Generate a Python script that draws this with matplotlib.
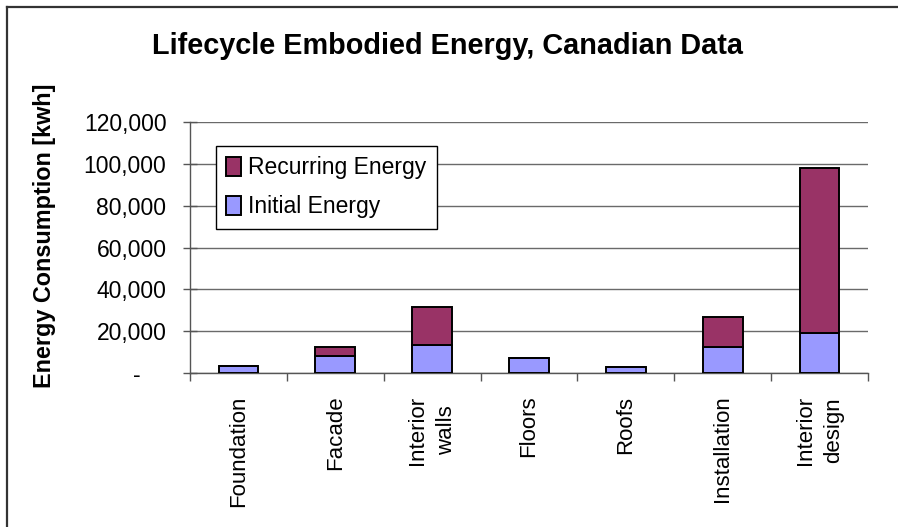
import matplotlib
matplotlib.use("Agg")
import matplotlib.pyplot as plt
from matplotlib.lines import Line2D
from matplotlib.ticker import FuncFormatter, FixedLocator
import numpy as np

categories = ["Foundation", "Facade", "Interior\nwalls", "Floors", "Roofs", "Installation", "Interior\ndesign"]
initial_energy = [3600, 8200, 13500, 7300, 2900, 12700, 19100]
recurring_energy = [0, 4500, 18000, 0, 0, 14300, 78700]
yticks = [0, 20000, 40000, 60000, 80000, 100000, 120000]

plt.rcParams['font.family'] = ['Liberation Sans', 'DejaVu Sans']

W, H = 898, 527
fig = plt.figure(figsize=(W / 100, H / 100), dpi=100)
fig.patch.set_facecolor('white')

ax_left, ax_right = 190, 868
ax_top, ax_bottom = 121.7, 373.3
ax = fig.add_axes([ax_left / W, 1 - ax_bottom / H, (ax_right - ax_left) / W, (ax_bottom - ax_top) / H])

x = np.arange(len(categories))
bw = 0.41
ax.bar(x, initial_energy, bw, color='#9999FF', edgecolor='black', linewidth=1.4,
       label='Initial Energy', zorder=3)
ax.bar(x, recurring_energy, bw, bottom=initial_energy, color='#993366', edgecolor='black',
       linewidth=1.4, label='Recurring Energy', zorder=3)

ax.set_xlim(-0.5, len(categories) - 0.5)
ax.set_ylim(0, 120000)

ax.yaxis.set_major_locator(FixedLocator(yticks))
ax.yaxis.set_major_formatter(FuncFormatter(lambda v, p: "-    " if v == 0 else f"{v:,.0f}"))
ax.yaxis.grid(True, color='#6a6a6a', linewidth=1.0, zorder=0)
ax.set_axisbelow(True)

ax.xaxis.set_major_locator(FixedLocator(np.arange(-0.5, len(categories), 1.0)))
ax.xaxis.set_major_formatter(FuncFormatter(lambda v, p: ""))
ax.set_xticks(x, minor=True)
ax.set_xticklabels(categories, minor=True, rotation=90, ha='center', va='top',
                   fontsize=16, multialignment='center', linespacing=1.5)
ax.tick_params(axis='x', which='minor', length=0, pad=16)
ax.tick_params(axis='x', which='major', direction='out', length=6, width=1, color='#555555')
ax.tick_params(axis='y', which='major', direction='inout', length=10, width=1, color='#555555',
               labelsize=16.5, pad=12)

for s in ['top', 'right']:
    ax.spines[s].set_visible(False)
for s in ['left', 'bottom']:
    ax.spines[s].set_color('#555555')
    ax.spines[s].set_linewidth(1.0)

ax.set_ylabel("Energy Consumption [kwh]", fontsize=16.8, fontweight='bold', va='center')
ax.yaxis.set_label_coords((45 - ax_left) / (ax_right - ax_left), (ax_bottom - 236) / (ax_bottom - ax_top))

handles, labels = ax.get_legend_handles_labels()
leg = ax.legend(handles[::-1], labels[::-1], loc='upper left',
                bbox_to_anchor=((216 - ax_left) / (ax_right - ax_left), (ax_bottom - 146) / (ax_bottom - ax_top)),
                fontsize=16.5, frameon=True, fancybox=False, shadow=False, borderaxespad=0,
                handlelength=0.65, handleheight=0.85, handletextpad=0.3, labelspacing=0.7,
                borderpad=0.45)
leg.get_frame().set_edgecolor('black')
leg.get_frame().set_linewidth(1.0)
leg.get_frame().set_facecolor('white')
leg.get_frame().set_alpha(1)
leg.set_zorder(5)

fig.text(448 / W, 1 - 46 / H, "Lifecycle Embodied Energy, Canadian Data", ha='center', va='center',
         fontsize=20.8, fontweight='bold')

fig.add_artist(Line2D([7 / W, 1], [1 - 7 / H, 1 - 7 / H], transform=fig.transFigure, color='#333333', linewidth=1.6))
fig.add_artist(Line2D([7 / W, 7 / W], [0, 1 - 7 / H], transform=fig.transFigure, color='#333333', linewidth=1.6))

fig.savefig("out.png", dpi=100)
